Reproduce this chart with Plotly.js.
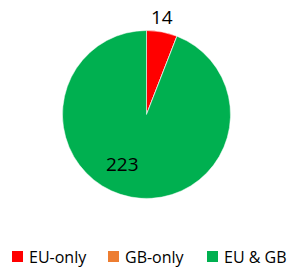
<!DOCTYPE html>
<html>
<head>
<meta charset="utf-8">
<script src="https://cdn.plot.ly/plotly-3.0.1.min.js"></script>
<style>
  html, body { margin: 0; padding: 0; background: #ffffff; }
  #chart { width: 288px; height: 267px; }
</style>
</head>
<body>
<div id="chart"></div>
<script>
const categories = ["EU-only", "GB-only", "EU & GB"];
const values = [14, 0, 223];
const sliceColors = ["#FF0000", "#ED7D31", "#00B050"];

const W = 288, H = 267;
const FONT = "'Open Sans', 'Noto Sans', sans-serif";
const px = x => x / W;
const py = y => 1 - y / H;

const trace = {
  type: "pie",
  labels: categories,
  values: values,
  sort: false,
  direction: "clockwise",
  rotation: 0,
  marker: { colors: sliceColors, line: { color: "#ffffff", width: 0.5 } },
  textinfo: "none",
  domain: { x: [px(62.5), px(230.5)], y: [py(198.5), py(30.5)] },
  hoverinfo: "label+value",
  showlegend: false
};

// data-label placement (pixel positions) for slices with a visible label
const labelPos = [[162, 17], null, [122.5, 164]];
// legend entry placement (left edge of swatch, pixels)
const legendX = [12, 108, 207];
const legendY = 256.5;

const annotations = [];
const shapes = [];
values.forEach((v, i) => {
  if (labelPos[i]) {
    annotations.push({
      xref: "paper", yref: "paper",
      x: px(labelPos[i][0]), y: py(labelPos[i][1]),
      xanchor: "center", yanchor: "middle",
      text: String(v), showarrow: false,
      font: { family: FONT, size: 19, color: "#000000" }
    });
  }
});
categories.forEach((c, i) => {
  shapes.push({
    type: "rect", xref: "paper", yref: "paper",
    x0: px(legendX[i]), x1: px(legendX[i] + 11),
    y0: py(legendY + 5.5), y1: py(legendY - 5.5),
    fillcolor: sliceColors[i], line: { width: 0 }
  });
  annotations.push({
    xref: "paper", yref: "paper",
    x: px(legendX[i] + 15), y: py(legendY),
    xanchor: "left", yanchor: "middle",
    text: c, showarrow: false,
    font: { family: FONT, size: 16, color: "#000000" }
  });
});

const layout = {
  width: W,
  height: H,
  margin: { l: 0, r: 0, t: 0, b: 0 },
  paper_bgcolor: "#ffffff",
  plot_bgcolor: "#ffffff",
  showlegend: false,
  annotations: annotations,
  shapes: shapes
};

Plotly.newPlot("chart", [trace], layout, { staticPlot: true, displayModeBar: false });
</script>
</body>
</html>
